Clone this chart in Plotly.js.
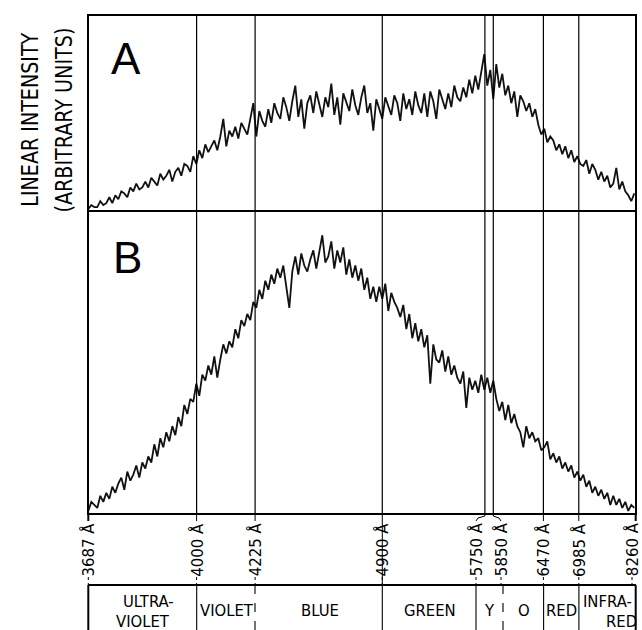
<!DOCTYPE html>
<html><head><meta charset="utf-8">
<script src="https://cdn.plot.ly/plotly-3.0.1.min.js"></script>
<style>html,body{margin:0;padding:0;background:#fff}</style>
</head><body><div id="chart" style="width:642px;height:630px"></div>
<script>
// Scanned intensity (arbitrary units, 0-100 of panel height), one sample per scan step
const intensityA = [
1,3,2,2,5,3,4,7,4,8,
6,10,9,7,12,10,14,11,12,15,
12,17,15,13,19,16,18,21,15,20,
22,18,24,23,20,28,
24,31,27,34,
30,33,36,31,38,47,33,41,38,43,
37,45,42,39,47,55,
38,51,46,43,
52,45,55,50,47,58,53,46,56,64,
48,57,42,55,59,50,61,54,48,58,
53,65,49,58,44,60,56,51,62,54,
49,58,64,50,55,41,57,52,
47,58,53,49,59,55,46,60,52,57,49,61,
54,50,60,48,61,56,47,62,57,52,
60,53,64,58,56,
63,58,67,60,69,
62,70,80,64,72,
57,75,63,70,59,
64,55,61,48,59,
56,51,55,48,52,
44,39,42,35,38,
36,31,34,29,33,
27,31,25,28,24,
23,26,19,24,21,
16,20,15,18,12,
14,22,11,15,10,
8,5,9];
const intensityB = [
1,4,3,2,6,4,7,5,9,7,
10,12,8,14,11,13,16,12,17,15,
19,17,23,19,25,22,27,24,29,26,
32,29,36,33,38,37,
43,39,46,44,
49,46,52,45,51,56,53,57,55,61,
58,64,62,66,64,70,
68,74,71,77,
74,79,76,81,78,82,75,68,80,85,
79,86,82,80,84,87,81,86,92,83,
85,90,81,87,83,88,
79,84,78,82,
77,81,74,78,71,75,
70,75,
71,76,67,73,70,68,
65,69,61,66,58,63,
57,61,55,59,43,56,51,
50,54,47,52,46,49,45,
43,47,35,45,41,44,40,46,
41,45,40,44,38,
34,37,31,36,30,33,29,
27,22,29,25,27,24,25,21,
22,24,18,20,17,19,15,
17,14,16,12,14,
11,13,9,11,7,9,6,
8,5,7,3,6,3,
5,2,4,1,3,2];
// Wavelength markers (Å) and the scan step at which each falls
const tickWavelengths = [3687,4000,4225,4900,5750,5850,6470,6985,8260];
const tickScanIndex = [0,36.1,55.6,98.0,132.2,135.0,151.7,163.5,182.47];
const bandLines = [["ULTRA-","VIOLET"],["VIOLET"],["BLUE"],["GREEN"],["Y"],["O"],["RED"],["INFRA-","RED"]];
const panelNames = ["A","B"];
const yTitleLines = ["LINEAR INTENSITY","(ARBITRARY UNITS)"];

// ---- layout helpers (pixel -> paper) ----
const L = 88, R = 6, T = 15, B = 116, W = 642, H = 630;
const PW = W - L - R, PH = H - T - B;
const px = v => (v - L) / PW;
const py = v => (H - B - v) / PH;
const splitY = py(211);
const X0 = -0.1, X1 = 182.57;
const idxToPx = i => L + (i - X0) / (X1 - X0) * PW;

const black = '#000';
const shapes = [];
const annotations = [];
const fitText = []; // [annotation index, target length px]

// frame and panel divider
shapes.push({type:'rect', xref:'paper', yref:'paper', x0:0, x1:1, y0:0, y1:1, line:{color:black, width:2}});
shapes.push({type:'line', xref:'paper', yref:'paper', x0:0, x1:1, y0:splitY, y1:splitY, line:{color:black, width:2}});
// vertical wavelength lines through both panels
tickScanIndex.forEach((s, k) => {
  if (k === 0 || k === tickScanIndex.length - 1) return;
  shapes.push({type:'line', xref:'x', yref:'paper', x0:s, x1:s, y0:0, y1:1, line:{color:black, width:1.2}});
});

// tick labels below the plot (5750 / 5850 spread apart with small brackets)
const labelPx = tickScanIndex.map(idxToPx);
labelPx[4] = 476; labelPx[5] = 501; labelPx[8] = 632;
tickWavelengths.forEach((w, k) => {
  const lineX = idxToPx(tickScanIndex[k]);
  fitText.push([annotations.length, 53]);
  annotations.push({xref:'paper', yref:'paper', x:px(labelPx[k]), y:py(550), xanchor:'center', yanchor:'middle',
    text: w + ' Å', textangle:-90, showarrow:false, borderpad:0,
    font:{family:'DejaVu Sans, sans-serif', size:16, color:black}});
  if (k === 4 || k === 5) {
    const d = labelPx[k];
    shapes.push({type:'path', xref:'paper', yref:'paper',
      path:`M ${px(lineX)},${py(514)} L ${px(lineX)},${py(516)} L ${px(d + (k===4?2:-2))},${py(518)} L ${px(d)},${py(521)}`,
      line:{color:black, width:1}});
  } else if (k === 3) {
    shapes.push({type:'line', xref:'paper', yref:'paper', x0:px(lineX), x1:px(lineX), y0:py(514), y1:py(585), line:{color:black, width:1}});
  } else {
    shapes.push({type:'line', xref:'paper', yref:'paper', x0:px(lineX), x1:px(lineX), y0:py(514), y1:py(521), line:{color:black, width:(k===0||k===8)?2:1}});
  }
  shapes.push({type:'line', xref:'paper', yref:'paper', x0:px(labelPx[k]), x1:px(labelPx[k]), y0:py(577), y1:py(585), line:{color:black, width:1, dash:'dot'}});
});

// colour band box
shapes.push({type:'line', xref:'paper', yref:'paper', x0:px(88), x1:px(636), y0:py(585), y1:py(585), line:{color:black, width:2}});
const dividerPx = [88.3,196.7,255,382.3,476,503,543.6,578.9,635.7];
const dividerDash = ['solid','solid','dash','solid','solid','dash','solid','solid','solid'];
dividerPx.forEach((d, k) => {
  shapes.push({type:'line', xref:'paper', yref:'paper', x0:px(d), x1:px(d), y0:py(585), y1:py(631),
    line:{color:black, width:(k===0||k===8)?2:1.1, dash:dividerDash[k]}});
});
const bandCenterPx = [[148,143],[226.5],[319.5],[430],[489.5],[523.5],[561.5],[607,621]];
bandLines.forEach((lines, k) => {
  const ys = lines.length === 2 ? [601.5, 621.5] : [610.5];
  lines.forEach((t, j) => {
    annotations.push({xref:'paper', yref:'paper', x:px(bandCenterPx[k][j]), y:py(ys[j]),
      xanchor:'center', yanchor:'middle', text:t, showarrow:false, borderpad:0,
      font:{family:'DejaVu Sans Condensed, sans-serif', size:16.5, color:black}});
  });
});

// panel letters
annotations.push({xref:'paper', yref:'paper', x:px(126), y:py(59), xanchor:'center', yanchor:'middle', text:panelNames[0], showarrow:false,
  font:{family:'Liberation Sans, Arial, sans-serif', size:44, color:black}});
annotations.push({xref:'paper', yref:'paper', x:px(127), y:py(257), xanchor:'center', yanchor:'middle', text:panelNames[1], showarrow:false,
  font:{family:'Liberation Sans, Arial, sans-serif', size:44, color:black}});

// y title (two rotated lines)
[[30, 174], [64, 185]].forEach(([xp, len], k) => {
  fitText.push([annotations.length, len]);
  annotations.push({xref:'paper', yref:'paper', x:px(xp), y:py(120), xanchor:'center', yanchor:'middle', text:yTitleLines[k],
    textangle:-90, showarrow:false,
    font:{family:'DejaVu Sans Condensed, sans-serif', size:23, color:black}});
});

const traces = [
  {y:intensityA, x0:0, dx:1, xaxis:'x', yaxis:'y2', type:'scatter', mode:'lines', line:{color:'#111', width:1.8}, hoverinfo:'skip'},
  {y:intensityB, x0:0, dx:1, xaxis:'x', yaxis:'y', type:'scatter', mode:'lines', line:{color:'#111', width:1.8}, hoverinfo:'skip'}
];
const hidden = {showgrid:false, zeroline:false, showticklabels:false, ticks:'', showline:false};
const layout = {
  width:W, height:H, margin:{l:L, r:R, t:T, b:B, pad:0},
  paper_bgcolor:'#fff', plot_bgcolor:'#fff', showlegend:false,
  xaxis: Object.assign({range:[X0, X1]}, hidden),
  yaxis: Object.assign({domain:[0, splitY], range:[0, 100]}, hidden),
  yaxis2: Object.assign({domain:[splitY, 1], range:[0, 100]}, hidden),
  shapes, annotations
};
Plotly.newPlot('chart', traces, layout, {staticPlot:true, displayModeBar:false}).then(gd => {
  // condense the narrow lettering to the lengths seen on the original
  fitText.forEach(([idx, len]) => {
    const t = gd.querySelector(`.annotation[data-index="${idx}"] text.annotation-text`);
    if (t) { t.setAttribute('textLength', len); t.setAttribute('lengthAdjust', 'spacingAndGlyphs'); }
  });
});
</script></body></html>
